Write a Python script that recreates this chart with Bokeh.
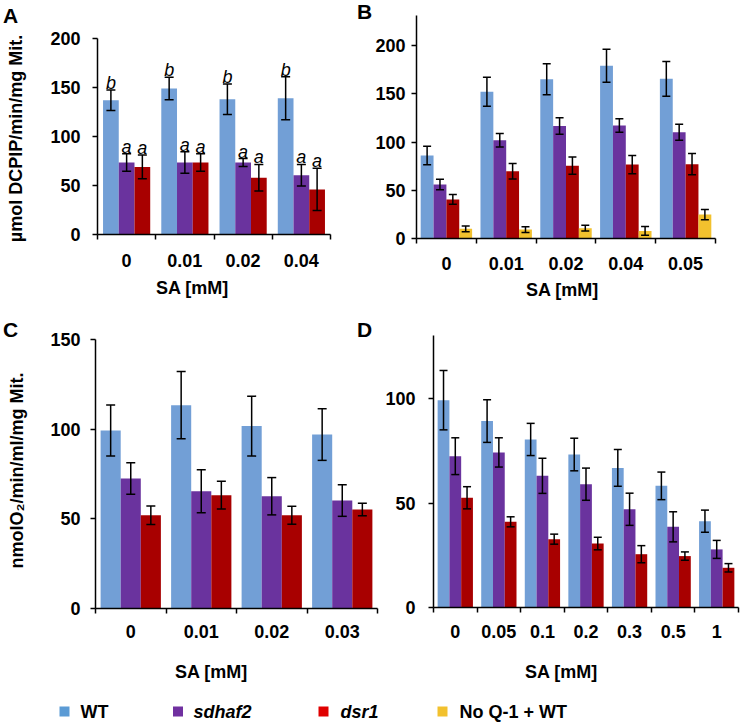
import math
import numpy as np
from bokeh.plotting import figure
from bokeh.models import (ColumnDataSource, Range1d, FixedTicker, CustomJSTickFormatter,
                          Whisker, TeeHead, Label, LinearAxis)
from bokeh.core.properties import value
from bokeh.embed import file_html
from bokeh.resources import INLINE

FONT = "Liberation Sans"

# ---------------- data ----------------
# Panel A: succinate-DCPIP reductase activity
a_doses = ["0", "0.01", "0.02", "0.04"]
a_wt = [137, 149, 138, 139]
a_wt_err = [10.5, 11.5, 15.5, 22]
a_sdhaf2 = [73.5, 73.5, 73.5, 60.5]
a_sdhaf2_err = [9, 11, 4, 11]
a_dsr1 = [69, 73.5, 58, 46]
a_dsr1_err = [12, 9, 13.5, 21.5]
a_wt_sig = ["b", "b", "b", "b"]
a_sdhaf2_sig = ["a", "a", "a", "a"]
a_dsr1_sig = ["a", "a", "a", "a"]

# Panel B
b_doses = ["0", "0.01", "0.02", "0.04", "0.05"]
b_wt = [86, 152, 165, 179, 165.5]
b_wt_err = [9.5, 15, 16, 17, 18]
b_sdhaf2 = [56, 101.7, 116.6, 117.2, 110]
b_sdhaf2_err = [5.5, 7, 8.6, 7, 8.3]
b_dsr1 = [40.5, 69.7, 75.5, 76.6, 77]
b_dsr1_err = [5, 8, 9, 9.5, 11]
b_noq = [10, 9.3, 10.7, 7.9, 24.8]
b_noq_err = [3, 3, 3, 4.6, 5.3]

# Panel C: oxygen consumption
c_doses = ["0", "0.01", "0.02", "0.03"]
c_wt = [99.3, 113.4, 101.7, 97]
c_wt_err = [14.2, 18.8, 16.7, 14.4]
c_sdhaf2 = [72.5, 65.4, 62.6, 60.2]
c_sdhaf2_err = [8.8, 12, 10.4, 8.8]
c_dsr1 = [52, 63.2, 52, 55.2]
c_dsr1_err = [5.1, 7.7, 5, 3.5]

# Panel D
d_doses = ["0", "0.05", "0.1", "0.2", "0.3", "0.5", "1"]
d_wt = [99.2, 89.2, 80.4, 73.2, 66.8, 58.2, 41.3]
d_wt_err = [14.2, 10.2, 7.7, 7.8, 8.8, 6.6, 5.3]
d_sdhaf2 = [72.4, 74.2, 63, 59, 47, 38.6, 27.8]
d_sdhaf2_err = [8.8, 7, 8.4, 7.7, 7.7, 7.2, 4.3]
d_dsr1 = [52.5, 41, 32.7, 30.6, 25.5, 24.6, 19]
d_dsr1_err = [5.3, 2.4, 2.4, 3, 4.1, 2, 2]

series_names = ["WT", "sdhaf2", "dsr1", "No Q-1 + WT"]
bar_colors = ["#729FD6", "#6A339E", "#A80000", "#F2C12E"]
legend_colors = ["#5B9BD5", "#7030A0", "#E00000", "#F2C12E"]
legend_styles = ["bold", "bold italic", "bold italic", "bold"]

x_title = "SA [mM]"
a_ylabel = "µmol DCPIP/min/mg Mit."
c_ylabel = "nmolO\u2082/min/ml/mg Mit."

# ---------------- page / canvas ----------------
W, H = 740, 723
p = figure(width=W, height=H, x_range=Range1d(0, W), y_range=Range1d(0, H),
           x_axis_type=None, y_axis_type=None, toolbar_location=None,
           output_backend="svg", min_border=0)
p.outline_line_color = None
p.background_fill_color = "white"
p.border_fill_color = "white"

extra_x = {}
extra_y = {}


def px_y(py):
    """canvas y (from top, pixels) -> base data y"""
    return H - py


def panel(key, cats, series, geom, bw, y_ticks, cap=8,
          ytick_standoff=12, xtick_standoff=13, sig_gap_px=7):
    n = len(cats)
    m = len(series)
    left, right, zero, ref_px, ref_val, top_val = geom
    sx = (right - left) / n
    sy = (zero - ref_px) / ref_val
    xr, yr = key + "x", key + "y"
    extra_x[xr] = Range1d(-left / sx, (W - left) / sx)
    extra_y[yr] = Range1d(-(H - zero) / sy, zero / sy)

    for k, (vals, errs, color, sig) in enumerate(series):
        xs = np.arange(n) + 0.5 + (k - (m - 1) / 2) * bw
        v = np.array(vals, dtype=float)
        e = np.array(errs, dtype=float)
        data = dict(x=xs, top=v, upper=v + e, lower=v - e)
        if sig is not None:
            data["sig"] = sig
            data["sig_y"] = v + e + sig_gap_px / sy
        src = ColumnDataSource(data)
        p.vbar(x="x", top="top", bottom=0, width=bw, source=src,
               fill_color=color, line_color=None,
               x_range_name=xr, y_range_name=yr)
        p.add_layout(Whisker(source=src, base="x", upper="upper", lower="lower",
                             x_range_name=xr, y_range_name=yr,
                             level="annotation", line_color="black", line_width=1.5,
                             upper_head=TeeHead(size=cap, line_color="black", line_width=1.5),
                             lower_head=TeeHead(size=cap, line_color="black", line_width=1.5)))
        if sig is not None:
            p.text(x="x", y="sig_y", text="sig", source=src,
                   x_range_name=xr, y_range_name=yr,
                   text_font=value(FONT), text_font_style="italic",
                   text_font_size="18px", text_color="black",
                   text_align="center", text_baseline="alphabetic")

    ya = LinearAxis(x_range_name=xr, y_range_name=yr, fixed_location=0,
                    bounds=(0, top_val), ticker=FixedTicker(ticks=y_ticks))
    ya.axis_line_color = "black"
    ya.axis_line_width = 1.5
    ya.major_tick_line_color = "black"
    ya.major_tick_line_width = 1.5
    ya.major_tick_out = 5
    ya.major_tick_in = 0
    ya.minor_tick_out = 0
    ya.minor_tick_in = 0
    ya.major_label_standoff = ytick_standoff
    ya.major_label_text_font = FONT
    ya.major_label_text_font_size = "18px"
    ya.major_label_text_font_style = "bold"
    ya.major_label_text_color = "black"
    p.add_layout(ya, "left")

    xa = LinearAxis(x_range_name=xr, y_range_name=yr, fixed_location=0,
                    bounds=(0, n),
                    ticker=FixedTicker(ticks=[i + 0.5 for i in range(n)],
                                       minor_ticks=[float(i) for i in range(n + 1)]),
                    formatter=CustomJSTickFormatter(
                        args=dict(labels=cats),
                        code="const i = Math.floor(tick); return (i >= 0 && i < labels.length) ? labels[i] : '';"))
    xa.axis_line_color = "black"
    xa.axis_line_width = 1.5
    xa.major_tick_out = 0
    xa.major_tick_in = 0
    xa.minor_tick_out = 5
    xa.minor_tick_in = 0
    xa.minor_tick_line_color = "black"
    xa.minor_tick_line_width = 1.5
    xa.major_label_standoff = xtick_standoff
    xa.major_label_text_font = FONT
    xa.major_label_text_font_size = "18px"
    xa.major_label_text_font_style = "bold"
    xa.major_label_text_color = "black"
    p.add_layout(xa, "below")


def text_label(text, cx, cy, size="18px", style="bold", angle=0.0, align="center"):
    p.add_layout(Label(x=cx, y=px_y(cy), text=text, angle=angle, angle_units="rad",
                       text_align=align, text_baseline="middle",
                       text_font=FONT, text_font_size=size, text_font_style=style,
                       text_color="black"))


# geometry: (left px, right px, zero px, ref-tick px, ref-tick value, axis top value)
geom_a = (97, 330, 234, 38, 200, 200)
geom_b = (416, 715, 238, 45, 200, 231)
geom_c = (95, 377, 608, 339, 150, 150)
geom_d = (433, 738, 607, 398, 100, 130)

panel("A", a_doses,
      [(a_wt, a_wt_err, bar_colors[0], a_wt_sig),
       (a_sdhaf2, a_sdhaf2_err, bar_colors[1], a_sdhaf2_sig),
       (a_dsr1, a_dsr1_err, bar_colors[2], a_dsr1_sig)],
      geom_a, 0.27, [0, 50, 100, 150, 200], cap=9, ytick_standoff=12, xtick_standoff=14)

panel("B", b_doses,
      [(b_wt, b_wt_err, bar_colors[0], None),
       (b_sdhaf2, b_sdhaf2_err, bar_colors[1], None),
       (b_dsr1, b_dsr1_err, bar_colors[2], None),
       (b_noq, b_noq_err, bar_colors[3], None)],
      geom_b, 0.215, [0, 50, 100, 150, 200], cap=8, ytick_standoff=6, xtick_standoff=13)

panel("C", c_doses,
      [(c_wt, c_wt_err, bar_colors[0], None),
       (c_sdhaf2, c_sdhaf2_err, bar_colors[1], None),
       (c_dsr1, c_dsr1_err, bar_colors[2], None)],
      geom_c, 0.285, [0, 50, 100, 150], cap=9, ytick_standoff=10, xtick_standoff=11)

panel("D", d_doses,
      [(d_wt, d_wt_err, bar_colors[0], None),
       (d_sdhaf2, d_sdhaf2_err, bar_colors[1], None),
       (d_dsr1, d_dsr1_err, bar_colors[2], None)],
      geom_d, 0.27, [0, 50, 100], cap=8, ytick_standoff=13, xtick_standoff=12)

p.extra_x_ranges = extra_x
p.extra_y_ranges = extra_y

# panel letters
text_label("A", 10, 14.5, size="21px")
text_label("B", 364, 11, size="21px")
text_label("C", 10, 329, size="21px")
text_label("D", 364, 329, size="21px")

# axis titles
text_label(x_title, 192, 287)
text_label(x_title, 562, 289)
text_label(x_title, 211, 671)
text_label(x_title, 561, 671)
text_label(a_ylabel, 15, 138, angle=math.pi / 2)
text_label(c_ylabel, 16, 470, angle=math.pi / 2)

# legend strip
leg_sq_x = [64, 177.5, 323, 442]
leg_tx_x = [80, 193, 340, 459]
leg_y = 711
p.scatter(x=leg_sq_x, y=[px_y(leg_y)] * 4, marker="square", size=10,
          fill_color=legend_colors, line_color=None)
for name, style, tx in zip(series_names, legend_styles, leg_tx_x):
    text_label(name, tx, leg_y, style=style, align="left")

open("out.html", "w").write(file_html(p, INLINE))
